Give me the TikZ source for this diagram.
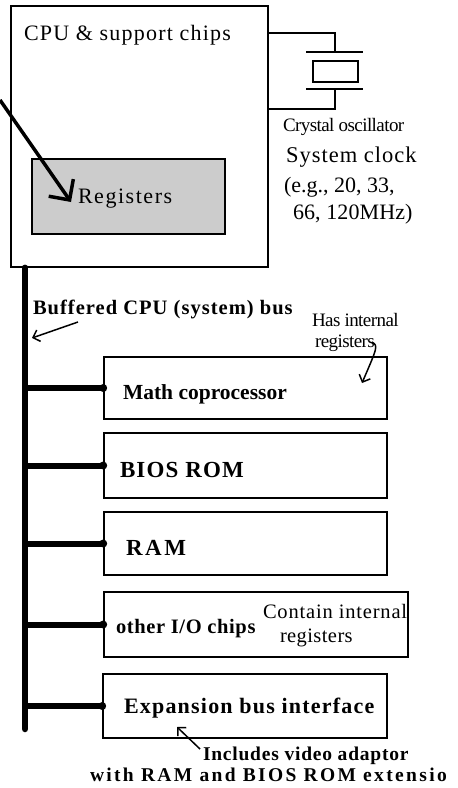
\documentclass[tikz,border=0pt]{standalone}
\usepackage{fontspec}
\setmainfont{Liberation Serif}
\usetikzlibrary{arrows.meta}
\newcommand{\lsp}[4]{{\fontsize{#1}{#1}\selectfont#3\addfontfeatures{LetterSpace=#2}#4}}
\tikzset{
  boxshape/.style={draw=black, line width=1.6pt, inner sep=0pt},
  lbl/.style={anchor=base west, inner sep=0pt, outer sep=0pt},
  conn/.style={line width=6pt},
  busline/.style={line width=6.5pt, line cap=round},
  bigarrow/.style={line width=3.5pt, -{Straight Barb[length=15pt,width=30pt]}},
  thinarrow/.style={line width=1.5pt, -{Straight Barb[length=6pt,width=12pt]}},
  wire/.style={line width=1.4pt}
}
\begin{document}
\begin{tikzpicture}[x=1pt,y=-1pt]
\useasboundingbox (0,0) rectangle (458,788);
% boxes
\node[boxshape, minimum width=257pt, minimum height=261pt] (cpu) at (139.5,136.5) {};
\node[boxshape, fill=gray!40, minimum width=193pt, minimum height=75pt] (reg) at (128.5,196.5) {};
\node[boxshape, line width=1.4pt, minimum width=45pt, minimum height=21pt] (xtal) at (335.5,71.5) {};
\node[boxshape, minimum width=283pt, minimum height=62pt] (math) at (245.5,388) {};
\node[boxshape, minimum width=283pt, minimum height=65pt] (bios) at (245.5,465.5) {};
\node[boxshape, minimum width=283pt, minimum height=63pt] (ram) at (245.5,543.5) {};
\node[boxshape, minimum width=304pt, minimum height=65pt] (io) at (256,624.5) {};
\node[boxshape, minimum width=284pt, minimum height=64pt] (exp) at (245,706) {};
% crystal
\coordinate (w1) at (0,33);
\coordinate (w2) at (0,109);
\coordinate (ptop) at (335,52);
\coordinate (pbot) at (335,89);
\draw[wire] (cpu.east |- w1) -| (ptop);
\draw[wire] (cpu.east |- w2) -| (pbot);
\draw[wire] (306,52) -- (363,52);
\draw[wire] (306,89) -- (363,89);
% texts
\node[lbl] (tcpu) at (24,40) {\lsp{22}{5.5}{}{CPU \& support chips}};
\node[lbl] (treg) at (78,203) {\lsp{22}{7}{}{Registers}};
\node[lbl] (tcry) at (283,131) {\lsp{19}{-3}{}{Crystal oscillator}};
\node[lbl] (tsys) at (286,162) {\lsp{22.5}{4.5}{}{System clock}};
\node[lbl] (teg) at (284,192) {\lsp{22}{0}{}{(e.g., 20, 33,}};
\node[lbl] (t66) at (293,219) {\lsp{22}{0.5}{}{66, 120MHz)}};
\node[lbl] (tbus) at (33,314) {\lsp{20.5}{5}{\bfseries}{Buffered CPU (system) bus}};
\node[lbl] (thas) at (312,326) {\lsp{19}{-3}{}{Has internal}};
\node[lbl] (threg) at (315,347) {\lsp{19}{-3}{}{registers}};
\node[lbl] (tmath) at (123,399) {\lsp{21.5}{0}{\bfseries}{Math coprocessor}};
\node[lbl] (tbios) at (120,477) {\lsp{23}{5}{\bfseries}{BIOS ROM}};
\node[lbl] (tram) at (126,555) {\lsp{23}{11}{\bfseries}{RAM}};
\node[lbl] (tio) at (116,633) {\lsp{20.5}{3}{\bfseries}{other I/O chips}};
\node[lbl] (tcont) at (263,618) {\lsp{20.5}{4}{}{Contain internal}};
\node[lbl] (tcreg) at (280,642) {\lsp{20.5}{2}{}{registers}};
\node[lbl] (texp) at (124,713) {\lsp{22}{5.5}{\bfseries}{Expansion bus interface}};
\node[lbl] (tinc) at (203,760) {\lsp{19.5}{4}{\bfseries}{Includes video adaptor}};
\node[lbl] (twith) at (90,781) {\lsp{19.5}{12}{\bfseries}{with RAM and BIOS ROM extensio}};
% bus
\coordinate (busx) at (25,0);
\coordinate (bustop) at (cpu.south -| busx);
\coordinate (busbot) at (25,729);
\draw[busline] (bustop) -- (busbot);
\foreach \b in {math,bios,ram,io,exp}{
  \draw[conn] (bustop |- \b.west) -- (\b.west);
  \fill (\b.west) circle (4pt);
}
% arrows
\coordinate (a1s) at (0,100);
\coordinate (a1e) at (71,202);
\draw[bigarrow] (a1s) -- (a1e);
\coordinate (a2s) at (78,322);
\coordinate (a2e) at (32,338);
\draw[thinarrow] (a2s) -- (a2e);
\coordinate (a3s) at (372,342);
\coordinate (a3e) at (362,383);
\draw[thinarrow] (a3s) .. controls (378,346) .. (a3e);
\coordinate (a4s) at (200,749);
\coordinate (a4e) at (177,727);
\draw[thinarrow] (a4s) -- (a4e);
\end{tikzpicture}
\end{document}
